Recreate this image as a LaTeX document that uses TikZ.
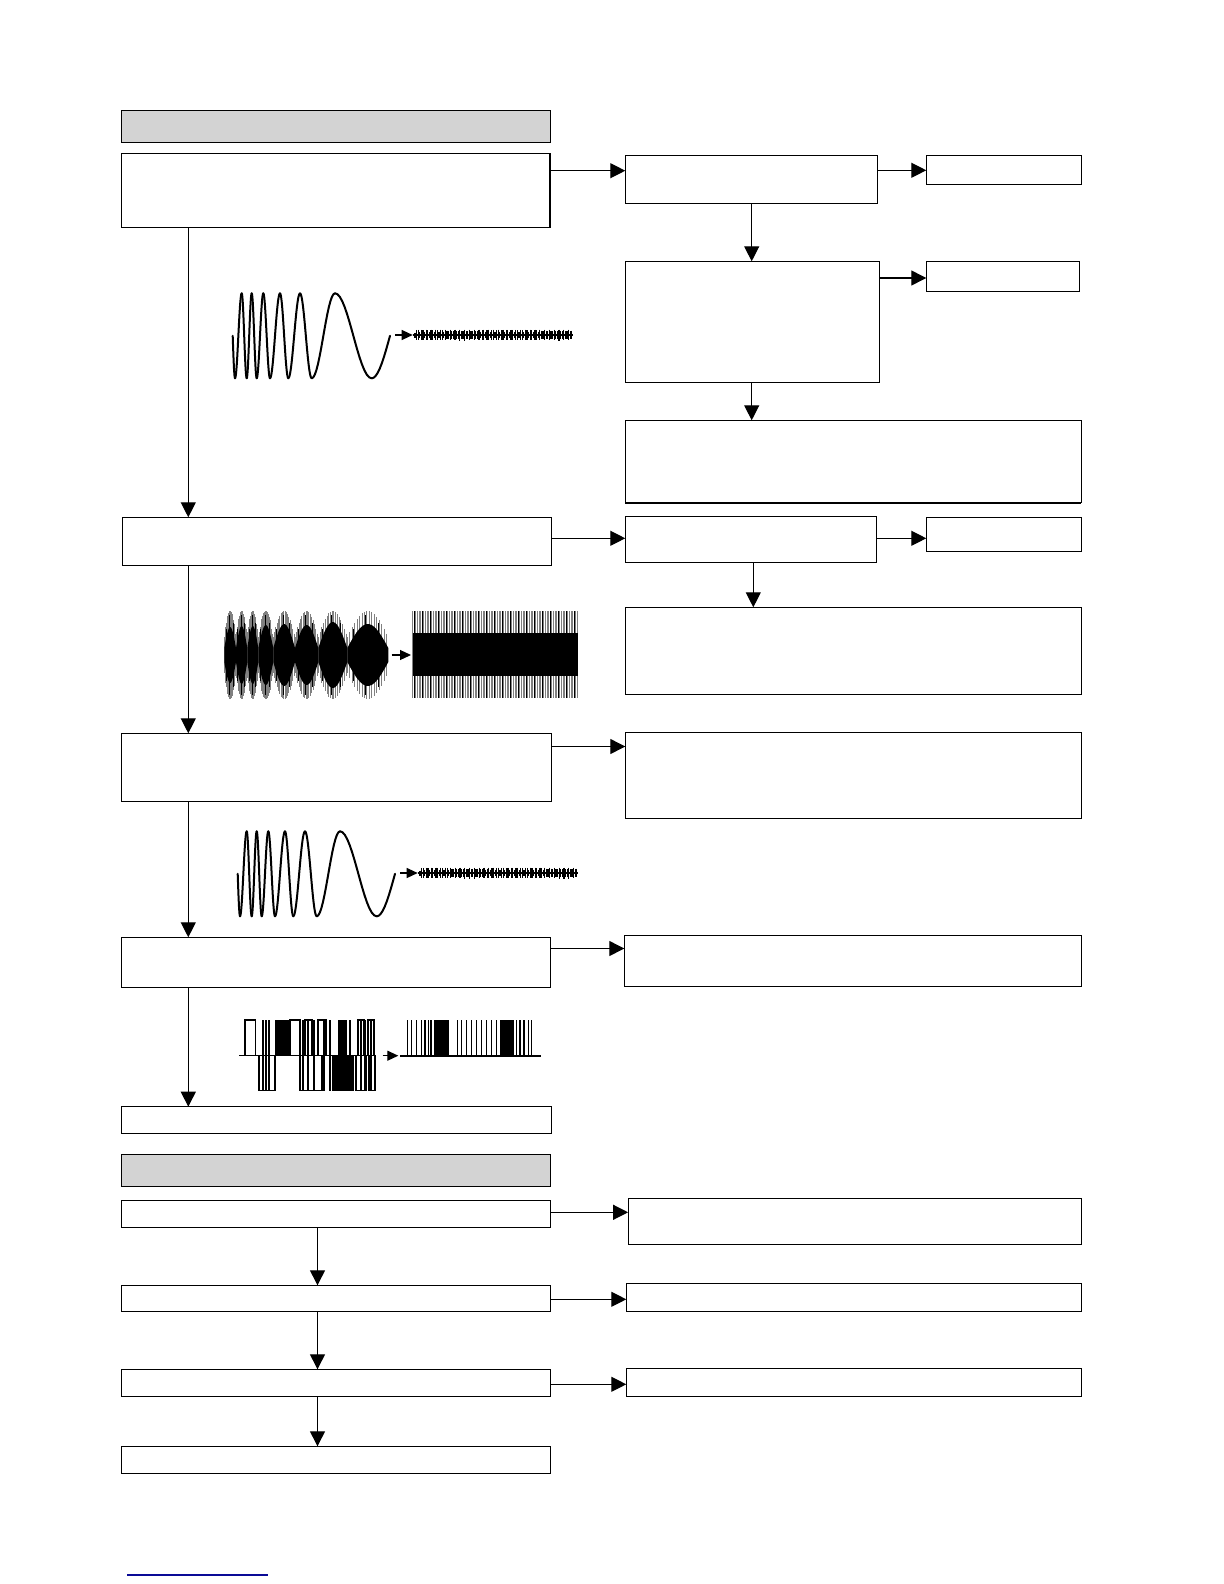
\documentclass[tikz,border=0pt]{standalone}
\usepackage{tikz}
\usetikzlibrary{arrows.meta,fit,calc}

\definecolor{headgray}{RGB}{211,211,211}
\definecolor{linkblue}{RGB}{10,10,150}

\tikzset{
  blk/.style={draw, line width=0.6pt, inner sep=0pt, outer sep=0pt},
  head/.style={blk, fill=headgray},
  arr/.style={line width=0.6pt, -{Triangle[length=7.5pt,width=7.5pt]}},
  tick/.style={line width=0.6pt, -{Triangle[length=5.5pt,width=5pt]}},
  wave/.style={line width=1pt, line cap=round, line join=round},
  digi/.style={line width=0.6pt},
}

% box from its corners, in pixels
\newcommand{\blk}[6][]{\node[blk,#1,fit={(#3,#4) (#5,#6)}] (#2) {};}

% swept sine and its noisy output
\newcommand{\chirpwave}{%
  \draw[wave] plot[domain=232.7:235,samples=6] (\x,{335.8+42.5*sin(90*(\x-232.7)/2.3)});
  \foreach \xa/\xb/\sg in {235/241.7/1, 241.7/246.7/-1, 246.7/251.7/1, 251.7/256.7/-1,
      256.7/263.3/1, 263.3/270/-1, 270/280/1, 280/288.3/-1, 288.3/300/1,
      300/311.7/-1, 311.7/335/1, 335/371.7/-1}
    \draw[wave] plot[domain=\xa:\xb,samples=16] (\x,{335.8+\sg*42.5*cos(180*(\x-\xa)/(\xb-\xa))});
  \draw[wave] plot[domain=371.7:390,samples=10] (\x,{335.8+42.5*cos(90*(\x-371.7)/18.3)});
  \draw[tick] (395,335) -- (412.7,335);
  \draw[line width=1.4pt] (412.7,335) -- (573,335);
  \foreach \i in {0,...,98}
    \draw[line width=0.55pt] ({415+1.6*\i},{332.5-3*abs(sin(\i*61))}) -- ({415+1.6*\i},{337.5+3*abs(sin(\i*61))});
}

\begin{document}
\begin{tikzpicture}[x=0.5pt,y=-0.5pt]
  \useasboundingbox (0,0) rectangle (1224,1584);

  % left column
  \blk[head]{head1}{121.3}{110.3}{550.7}{142.3}
  \blk{b1}{121.5}{153.3}{550}{227.3}
  \blk{b2}{122.3}{517.3}{551.7}{565.3}
  \blk{b3}{121.3}{733.3}{551.7}{801.3}
  \blk{b4}{121.3}{937.3}{550.7}{987.3}
  \blk{b5}{121.7}{1106.7}{551.7}{1133.3}

  % right column
  \blk{rA}{625.3}{155.3}{877.7}{203.3}
  \blk{rB}{625.3}{261.3}{879.3}{382.3}
  \blk{rC}{625.3}{420.3}{1081.4}{502.7}
  \blk{rD}{625.3}{516.3}{876.7}{562.3}
  \blk{rF}{625.3}{607.3}{1081.4}{694.3}
  \blk{rE}{625.3}{732.3}{1081.4}{818.3}
  \blk{rG}{624.3}{935.3}{1081.4}{986.3}
  \blk{f1}{926.3}{155.3}{1081.4}{184.3}
  \blk{f2}{926.3}{261.3}{1079.3}{291.3}
  \blk{f3}{926.3}{517.3}{1081.4}{551.3}
  \draw[line width=1.2pt] (rC.south west) -- (rC.south east);

  % second part
  \blk[head]{head2}{121.3}{1154.3}{550.6}{1186.7}
  \blk{b6}{121.3}{1200.3}{550.6}{1227.3}
  \blk{b7}{121.3}{1285.3}{550.6}{1311.7}
  \blk{b8}{121.3}{1369.3}{550.6}{1396.7}
  \blk{b9}{121.3}{1446.3}{550.6}{1473.5}
  \blk{rH}{628.1}{1198.3}{1081.4}{1244.3}
  \blk{rI}{626.3}{1283.3}{1081.4}{1311.7}
  \blk{rJ}{626.3}{1368.3}{1081.4}{1396.7}

  % connectors
  \foreach \p/\q in {b1/b2, b2/b3, b3/b4, b4/b5}
    \draw[arr] (\p.south -| 188.3,0) -- (\q.north -| 188.3,0);
  \foreach \p/\q in {b6/b7, b7/b8, b8/b9}
    \draw[arr] (\p.south -| 317.5,0) -- (\q.north -| 317.5,0);
  \foreach \p/\q/\yy in {b1/rA/170.7, rA/f1/170.3, rB/f2/278, b2/rD/538.3, rD/f3/538.3,
      b3/rE/746.5, b4/rG/948.5, b6/rH/1212.3, b7/rI/1299.3, b8/rJ/1384.3}
    \draw[arr] (\p.east |- 0,\yy) -- (\q.west |- 0,\yy);
  \draw[arr] (rA.south -| 751.7,0) -- (rB.north -| 751.7,0);
  \draw[arr] (rB.south -| 751.7,0) -- (rC.north -| 751.7,0);
  \draw[arr] (rD.south -| 753.3,0) -- (rF.north -| 753.3,0);

  % waveform 1 and 3
  \chirpwave
  \begin{scope}[shift={(5,538)}]
    \chirpwave
  \end{scope}

  % waveform 2, modulated carrier
  \foreach \xa/\xb/\ry in {224.3/236/21, 236/247.3/22, 247.3/258.3/22, 258.3/273.3/23,
      273.3/295/24, 295/318.3/23, 318.3/347.3/26, 347.3/388.3/24} {
    \foreach \t in {0,0.06,...,1.01}
      \draw[gray, line width=0.5pt] ({\xa+\t*(\xb-\xa)},{655-18-26*sin(180*\t)}) -- ({\xa+\t*(\xb-\xa)},{655+18+26*sin(180*\t)});
    \foreach \t in {0.15,0.45,0.75}
      \draw[line width=0.4pt] ({\xa+\t*(\xb-\xa)},{655-14-26*sin(180*\t)}) -- ({\xa+\t*(\xb-\xa)},{655+14+26*sin(180*\t)});
    \fill plot[domain=\xa:\xb,samples=14] (\x,{655-7-\ry*sin(180*(\x-\xa)/(\xb-\xa))})
      -- plot[domain=\xb:\xa,samples=14] (\x,{655+7+\ry*sin(180*(\x-\xa)/(\xb-\xa))}) -- cycle;
  }
  \draw[tick] (391.7,655) -- (411,655);
  \foreach \i in {0,...,103}
    \draw[gray, line width=0.5pt] ({412.7+1.6*\i},611) -- ({412.7+1.6*\i},698);
  \foreach \i in {0,...,20}
    \draw[line width=0.4pt] ({414+8*\i},611) -- ({414+8*\i},698);
  \fill (412.7,633.3) rectangle (577.7,676);

  % waveform 4, coded pulses
  \draw[digi] (239.3,1055.7) -- (376,1055.7);
  \foreach \xa/\xb in {245/255.7, 290/300, 305/312, 318/326, 358/364, 368/374}
    \draw[digi] (\xa,1055.7) |- (\xb,1020) -- (\xb,1055.7);
  \foreach \xa/\xb in {259/275, 300/322, 356/366, 369/375}
    \draw[digi] (\xa,1055.7) |- (\xb,1090.7) -- (\xb,1055.7);
  \foreach \xa/\xb in {275/289, 338/347}
    \fill (\xa,1020) rectangle (\xb,1055.7);
  \fill (332,1055.7) rectangle (354,1090.7);
  \foreach \xx in {263,266,269,303,308,314,324,330,350,361,365,371}
    \draw[digi] (\xx,1020) -- (\xx,1090.7);
  \draw[tick] (382.7,1055.7) -- (398.3,1055.7);
  \draw[line width=1.2pt] (400,1055.7) -- (540.7,1055.7);
  \foreach \xx in {407.3,411.7,416.7,421.7,425,428.3,431,457.3,461.7,466.7,471.7,
      476.7,481.7,486.7,491.7,496.7,516.7,520,524,528.3,531.7}
    \draw[digi] (\xx,1020) -- (\xx,1055.7);
  \fill (434,1020) rectangle (449,1055.7);
  \fill (500,1020) rectangle (514,1055.7);

  % page footer rule
  \draw[linkblue, line width=0.75pt] (127,1575) -- (268,1575);
\end{tikzpicture}
\end{document}
